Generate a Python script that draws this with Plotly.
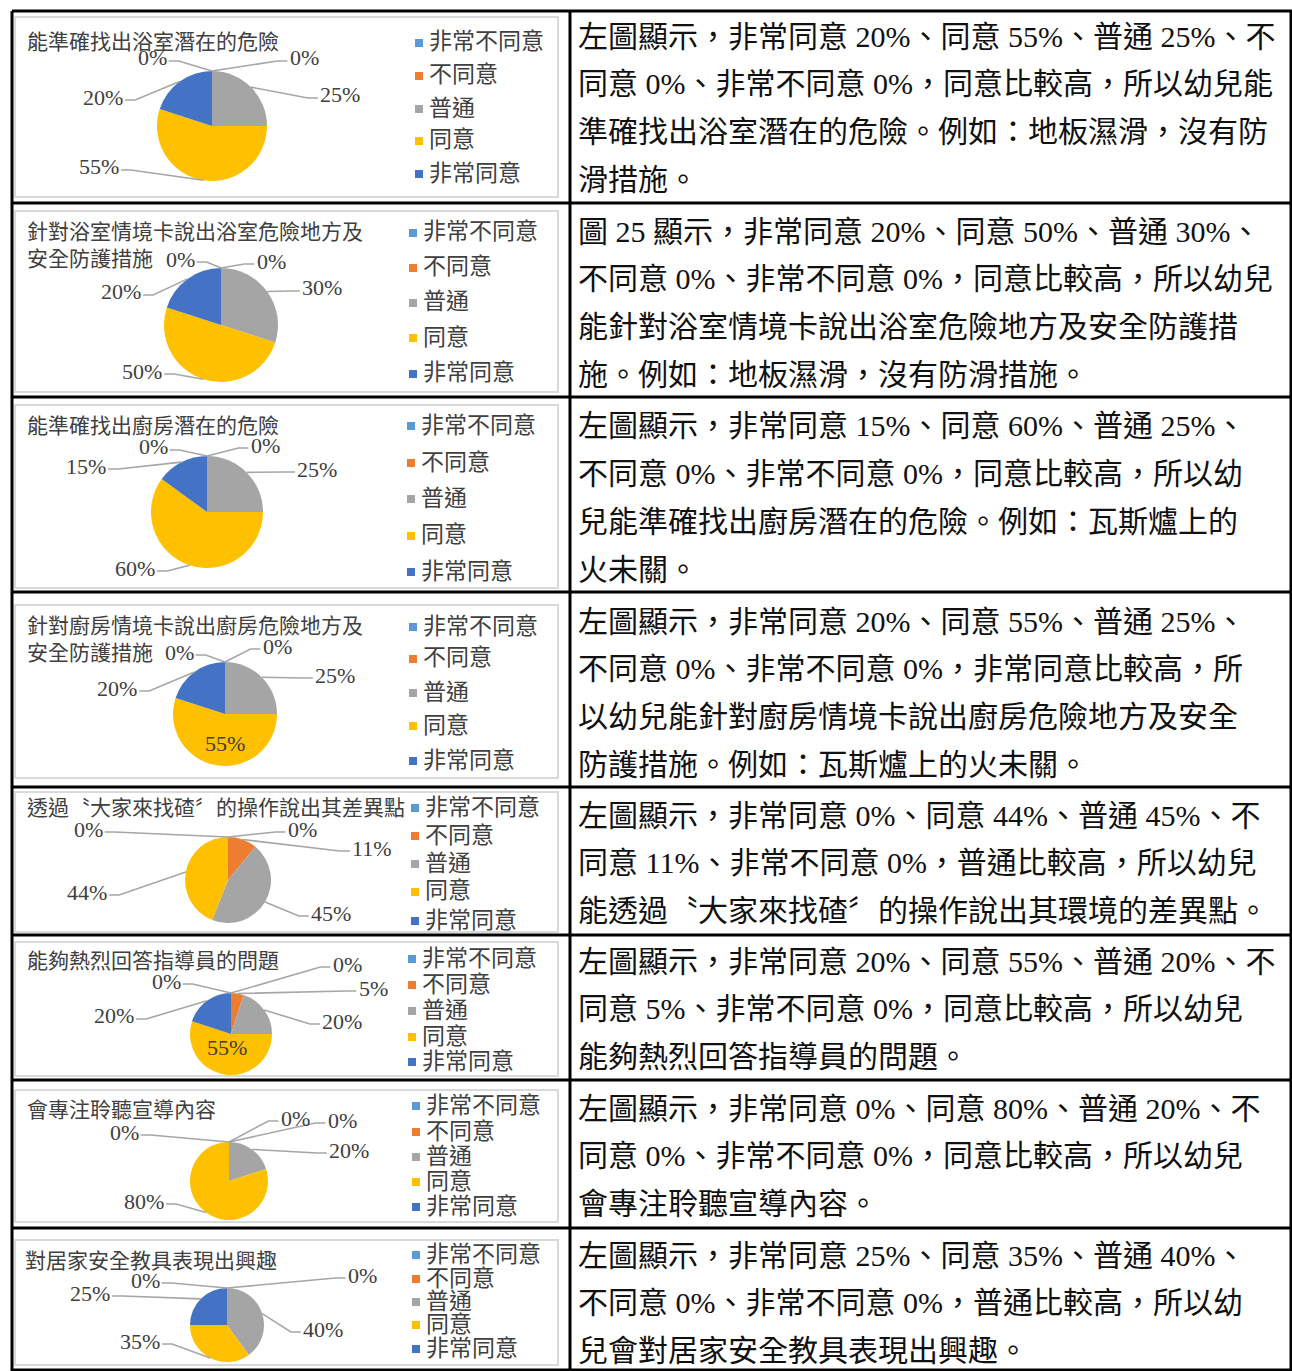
import math
import plotly.graph_objects as go

W, H = 1292, 1371

# ---------------- data ----------------
categories = ["非常不同意", "不同意", "普通", "同意", "非常同意"]
colors = ["#5B9BD5", "#ED7D31", "#A5A5A5", "#FFC000", "#4472C4"]

titles = [
    "能準確找出浴室潛在的危險",
    "針對浴室情境卡說出浴室危險地方及<br>安全防護措施",
    "能準確找出廚房潛在的危險",
    "針對廚房情境卡說出廚房危險地方及<br>安全防護措施",
    "透過〝大家來找碴〞的操作說出其差異點",
    "能夠熱烈回答指導員的問題",
    "會專注聆聽宣導內容",
    "對居家安全教具表現出興趣",
]

values_bath_find = [0, 0, 25, 55, 20]
values_bath_card = [0, 0, 30, 50, 20]
values_kitchen_find = [0, 0, 25, 60, 15]
values_kitchen_card = [0, 0, 25, 55, 20]
values_spot_diff = [0, 11, 45, 44, 0]
values_answer = [0, 5, 20, 55, 20]
values_listen = [0, 0, 20, 80, 0]
values_toys = [0, 0, 40, 35, 25]

all_values = [values_bath_find, values_bath_card, values_kitchen_find, values_kitchen_card,
              values_spot_diff, values_answer, values_listen, values_toys]

text_bath_find = [
    "左圖顯示，非常同意 20%、同意 55%、普通 25%、不",
    "同意 0%、非常不同意 0%，同意比較高，所以幼兒能",
    "準確找出浴室潛在的危險。例如：地板濕滑，沒有防",
    "滑措施。",
]
text_bath_card = [
    "圖 25 顯示，非常同意 20%、同意 50%、普通 30%、",
    "不同意 0%、非常不同意 0%，同意比較高，所以幼兒",
    "能針對浴室情境卡說出浴室危險地方及安全防護措",
    "施。例如：地板濕滑，沒有防滑措施。",
]
text_kitchen_find = [
    "左圖顯示，非常同意 15%、同意 60%、普通 25%、",
    "不同意 0%、非常不同意 0%，同意比較高，所以幼",
    "兒能準確找出廚房潛在的危險。例如：瓦斯爐上的",
    "火未關。",
]
text_kitchen_card = [
    "左圖顯示，非常同意 20%、同意 55%、普通 25%、",
    "不同意 0%、非常不同意 0%，非常同意比較高，所",
    "以幼兒能針對廚房情境卡說出廚房危險地方及安全",
    "防護措施。例如：瓦斯爐上的火未關。",
]
text_spot_diff = [
    "左圖顯示，非常同意 0%、同意 44%、普通 45%、不",
    "同意 11%、非常不同意 0%，普通比較高，所以幼兒",
    "能透過〝大家來找碴〞的操作說出其環境的差異點。",
]
text_answer = [
    "左圖顯示，非常同意 20%、同意 55%、普通 20%、不",
    "同意 5%、非常不同意 0%，同意比較高，所以幼兒",
    "能夠熱烈回答指導員的問題。",
]
text_listen = [
    "左圖顯示，非常同意 0%、同意 80%、普通 20%、不",
    "同意 0%、非常不同意 0%，同意比較高，所以幼兒",
    "會專注聆聽宣導內容。",
]
text_toys = [
    "左圖顯示，非常同意 25%、同意 35%、普通 40%、",
    "不同意 0%、非常不同意 0%，普通比較高，所以幼",
    "兒會對居家安全教具表現出興趣。",
]
all_texts = [text_bath_find, text_bath_card, text_kitchen_find, text_kitchen_card,
             text_spot_diff, text_answer, text_listen, text_toys]

# ---------------- layout (positions in px) ----------------
charts = [
    dict(box=(15, 17, 558, 197), title=(25, 42), pie=(212, 126, 55), leg_x=427, leg_y=[42, 75, 108, 140, 173],
         labels=[(0, 152, 58, 0), (1, 304, 58, 0), (2, 340, 95, 0), (3, 99, 167, 0), (4, 103, 97, 0)]),
    dict(box=(15, 211, 558, 392), title=(25, 232), pie=(221, 325, 57), leg_x=421, leg_y=[232, 267, 302, 337, 373],
         labels=[(0, 180, 259, 0), (1, 271, 261, 0), (2, 322, 288, 0), (3, 142, 371, 0), (4, 121, 292, 0)]),
    dict(box=(15, 405, 558, 588), title=(25, 426), pie=(207, 512, 56), leg_x=419, leg_y=[425, 462, 498, 535, 571],
         labels=[(0, 153, 447, 0), (1, 265, 445, 0), (2, 317, 469, 0), (3, 135, 568, 0), (4, 86, 466, 0)]),
    dict(box=(15, 605, 558, 778), title=(25, 626), pie=(225, 714, 52), leg_x=421, leg_y=[626, 658, 692, 725, 760],
         labels=[(0, 179, 652, 0), (1, 277, 646, 0), (2, 335, 675, 0), (3, 225, 743, 1), (4, 117, 688, 0)]),
    dict(box=(15, 792, 558, 932), title=(25, 808), pie=(228, 880, 43), leg_x=423, leg_y=[807, 835, 863, 891, 920],
         labels=[(0, 88, 829, 0), (4, 302, 829, 0), (1, 372, 848, 0), (2, 331, 913, 0), (3, 87, 892, 0)]),
    dict(box=(15, 942, 558, 1076), title=(25, 961), pie=(231, 1034, 41), leg_x=420, leg_y=[958, 984, 1010, 1036, 1061],
         labels=[(0, 166, 981, 0), (0, 347, 964, 0), (1, 373, 988, 0), (2, 342, 1021, 0), (3, 227, 1047, 1), (4, 114, 1016, 0)]),
    dict(box=(15, 1090, 558, 1222), title=(25, 1110), pie=(229, 1181, 39), leg_x=424, leg_y=[1105, 1131, 1156, 1181, 1206],
         labels=[(0, 124, 1132, 0), (1, 295, 1118, 0), (4, 342, 1120, 0), (2, 349, 1150, 0), (3, 144, 1201, 0)]),
    dict(box=(15, 1240, 558, 1365), title=(23, 1261), pie=(227, 1325, 37), leg_x=424, leg_y=[1254, 1278, 1301, 1324, 1348],
         labels=[(0, 145, 1280, 0), (1, 362, 1275, 0), (2, 323, 1329, 0), (3, 140, 1341, 0), (4, 90, 1293, 0)]),
]
text_first_y = [36, 231, 426, 621, 815, 961, 1108, 1255]
text_line_gap = 47.8
text_x = 576
row_lines_y = [11, 203, 397, 592, 787, 935, 1080, 1228, 1370]
col_lines_x = [12, 570, 1291]

FONT = "Liberation Serif, 'Noto Sans CJK TC', serif"
TITLE_FS = 21
LEG_FS = 23
LAB_FS = 22
BODY_FS = 30
TXT_COLOR = "#404040"


def fx(x):
    return x / W


def fy(y):
    return 1 - y / H


fig = go.Figure()
annotations = []
shapes = []

for ci, (vals, ch) in enumerate(zip(all_values, charts)):
    cx, cy, r = ch["pie"]
    # chart frame
    x0, y0, x1, y1 = ch["box"]
    shapes.append(dict(type="rect", xref="paper", yref="paper", x0=fx(x0), x1=fx(x1), y0=fy(y1), y1=fy(y0),
                       line=dict(color="#D9D9D9", width=2), fillcolor="rgba(0,0,0,0)", layer="below"))
    fig.add_trace(go.Pie(
        values=vals, labels=categories, sort=False, direction="clockwise", rotation=0,
        marker=dict(colors=colors, line=dict(width=0)), textinfo="none", hoverinfo="skip",
        showlegend=False,
        domain=dict(x=[fx(cx - r), fx(cx + r)], y=[fy(cy + r), fy(cy - r)]),
    ))
    # title
    tx, ty = ch["title"]
    annotations.append(dict(text=titles[ci], x=fx(tx), y=fy(ty - 14), xref="paper", yref="paper",
                            xanchor="left", yanchor="top", showarrow=False, align="left",
                            font=dict(family=FONT, size=TITLE_FS, color=TXT_COLOR)))
    # legend
    for k, cat in enumerate(categories):
        ly = ch["leg_y"][k]
        lx = ch["leg_x"]
        shapes.append(dict(type="rect", xref="paper", yref="paper", x0=fx(lx - 12), x1=fx(lx - 4),
                           y0=fy(ly + 5), y1=fy(ly - 3), line=dict(width=0), fillcolor=colors[k]))
        annotations.append(dict(text=cat, x=fx(lx), y=fy(ly), xref="paper", yref="paper",
                                xanchor="left", yanchor="middle", showarrow=False,
                                font=dict(family=FONT, size=LEG_FS, color=TXT_COLOR)))
    # data labels with leader lines
    total = float(sum(vals))
    cum = [sum(vals[:k]) for k in range(len(vals))]
    for (k, lx, ly, inside) in ch["labels"]:
        txt = f"{vals[k]}%"
        annotations.append(dict(text=txt, x=fx(lx), y=fy(ly), xref="paper", yref="paper",
                                xanchor="center", yanchor="middle", showarrow=False,
                                font=dict(family=FONT, size=LAB_FS, color=TXT_COLOR)))
        if inside:
            continue
        theta = 2 * math.pi * (cum[k] + vals[k] / 2.0) / total
        ex = cx + r * math.sin(theta)
        ey = cy - r * math.cos(theta)
        hw = (0.5 * (len(txt) - 1) + 0.83) * LAB_FS / 2
        side = 1 if lx < ex else -1
        sx = lx + side * (hw + 2)
        sy = ly + 3
        stub = sx + side * 10
        path = f"M {fx(sx)},{fy(sy)} L {fx(stub)},{fy(sy)} L {fx(ex)},{fy(ey)}"
        shapes.append(dict(type="path", xref="paper", yref="paper", path=path,
                           line=dict(color="#A6A6A6", width=1.6)))

# right column text
for ri, lines in enumerate(all_texts):
    for li, line in enumerate(lines):
        annotations.append(dict(text=line, x=fx(text_x), y=fy(text_first_y[ri] + li * text_line_gap),
                                xref="paper", yref="paper", xanchor="left", yanchor="middle",
                                showarrow=False, font=dict(family=FONT, size=BODY_FS, color="#111111")))

# table borders
for y in row_lines_y:
    shapes.append(dict(type="line", xref="paper", yref="paper", x0=fx(col_lines_x[0]), x1=fx(W),
                       y0=fy(y), y1=fy(y), line=dict(color="black", width=3)))
for x in col_lines_x:
    shapes.append(dict(type="line", xref="paper", yref="paper", x0=fx(x), x1=fx(x),
                       y0=fy(row_lines_y[0]), y1=0, line=dict(color="black", width=3)))

fig.update_layout(
    width=W, height=H, autosize=False,
    margin=dict(l=0, r=0, t=0, b=0),
    paper_bgcolor="white", plot_bgcolor="white",
    annotations=annotations, shapes=shapes,
    showlegend=False,
)

fig.write_html("out.html")
